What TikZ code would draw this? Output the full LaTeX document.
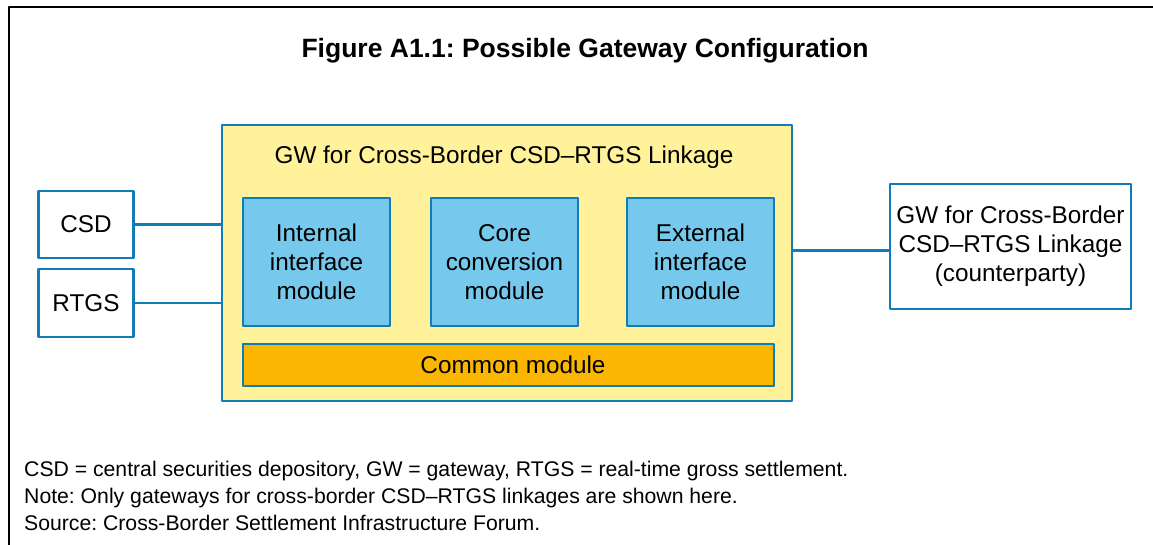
\documentclass[tikz,border=0pt]{standalone}
\usepackage{fontspec}
\setmainfont{Liberation Sans}
\usetikzlibrary{calc,positioning}
\definecolor{bisblue}{RGB}{16,125,184}
\definecolor{gwyellow}{RGB}{255,242,155}
\definecolor{modblue}{RGB}{118,201,236}
\definecolor{comorange}{RGB}{250,182,0}
\frenchspacing
\tikzset{
	whitebox/.style={draw=bisblue, line width=2.5pt, fill=white, align=center, inner sep=0pt},
	modbox/.style={draw=bisblue, line width=2.5pt, fill=modblue, align=center, inner sep=0pt,
		minimum width=\mw, minimum height=\mh},
	link/.style={draw=bisblue, line width=2.5pt}
}
\begin{document}
\begin{tikzpicture}[x=1pt, y=1pt, font=\fontsize{24.3}{29}\selectfont, line join=round]
	\def\mw{147pt} \def\mh{128pt}
	\useasboundingbox (0,0) rectangle (1153,545);
	% frame and title
	\draw[line width=2.5pt] (9,0) -- (9,538) -- (1153,538);
	\node[font=\fontsize{26.5}{30}\selectfont\bfseries] (title) at (585,494) {Figure A1.1: Possible Gateway Configuration};
	% gateway
	\node[draw=bisblue, line width=2.5pt, fill=gwyellow, minimum width=570pt, minimum height=276pt] (gw) at (507,282) {};
	\node (gwlabel) at (504,388) {GW for Cross-Border CSD--RTGS Linkage};
	\node[modbox] (intmod) at (316.5,283) {Internal\\interface\\module};
	\node[modbox] (coremod) at (504.5,283) {Core\\conversion\\module};
	\node[modbox] (extmod) at (700.5,283) {External\\interface\\module};
	\node[draw=bisblue, line width=2.5pt, fill=comorange, minimum width=531pt, minimum height=42pt] (commod) at (508.5,180) {};
	\node (comlabel) at (513,180) {Common module};
	% outside
	\node[whitebox, minimum width=95pt, minimum height=67pt] (csd) at (86,320.5) {CSD};
	\node[whitebox, minimum width=95pt, minimum height=68pt] (rtgs) at (86,242) {RTGS};
	\node[whitebox, minimum width=241pt, minimum height=125pt] (gwcp) at (1010.5,298.5) {GW for Cross-Border\\CSD--RTGS Linkage\\(counterparty)};
	\draw[link] (csd.east) -- (csd.east -| gw.west);
	\draw[link] (rtgs.east) -- (rtgs.east -| gw.west);
	\draw[link] ($(gwcp.west)+(0,-4)$) coordinate (cpin) -- (cpin -| gw.east);
	% notes
	\begin{scope}[font=\fontsize{21.2}{27}\selectfont]
		\node[anchor=base west, inner sep=0pt] (note1) at (24,68) {CSD = central securities depository, GW = gateway, RTGS = real-time gross settlement.};
		\node[anchor=base west, inner sep=0pt] (note2) at (24,41) {Note: Only gateways for cross-border CSD--RTGS linkages are shown here.};
		\node[anchor=base west, inner sep=0pt] (note3) at (24,14) {Source: Cross-Border Settlement Infrastructure Forum.};
	\end{scope}
\end{tikzpicture}
\end{document}
